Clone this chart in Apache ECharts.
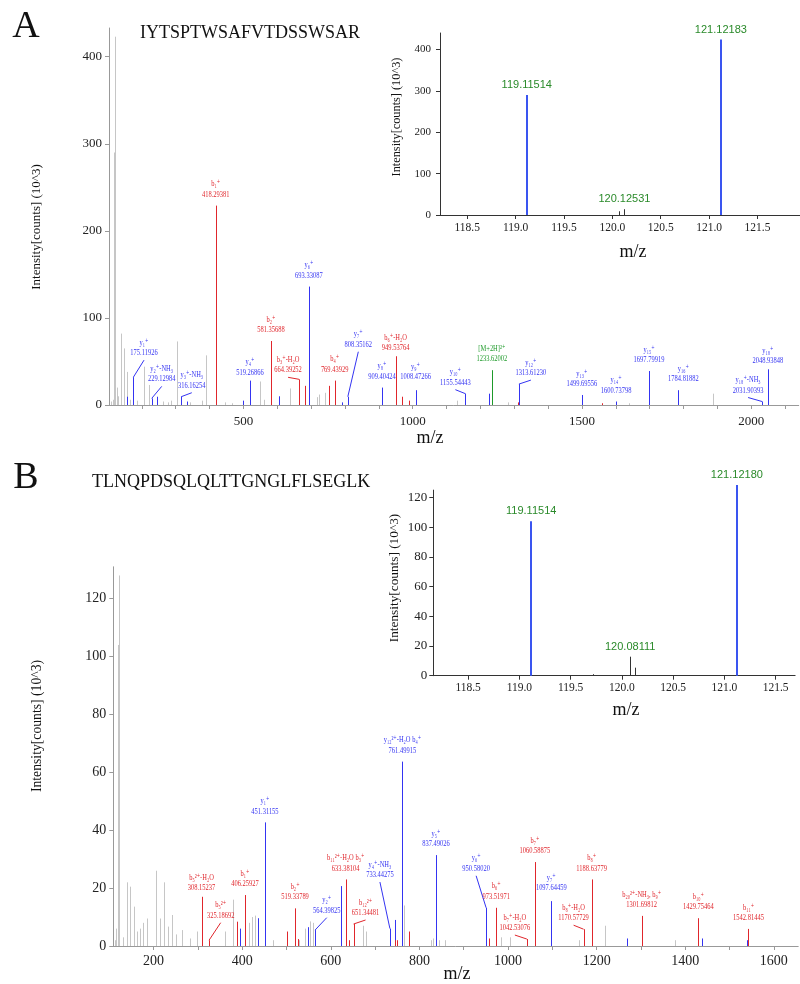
<!DOCTYPE html>
<html>
<head>
<meta charset="utf-8">
<script src="https://cdn.jsdelivr.net/npm/echarts@6.0.0/dist/echarts.min.js"></script>
<style>
  html, body { margin: 0; padding: 0; background: #fff; }
  #chart { width: 800px; height: 984px; }
</style>
</head>
<body>
<div id="chart"></div>
<script>
// ---------- panel A : IYTSPTWSAFVTDSSWSAR ----------
const seqA = 'IYTSPTWSAFVTDSSWSAR';
// [m/z, intensity (10^3)]
const aGray = [[119.1, 290], [121.1, 423], [110, 4], [114, 6], [126, 20], [130, 10], [138, 82], [146, 65],
  [148, 63], [155, 38], [164, 6], [186, 5], [205, 44], [221, 23], [263, 4], [278, 3], [286, 5], [303, 73],
  [342, 3], [377, 5], [390, 57], [446, 3], [466, 2], [549, 27], [560, 6], [638, 19], [717, 9], [724, 12],
  [741, 14], [1130, 5], [1280, 3], [1640, 2], [1886, 13]];
const aBlue = [[157, 9.5], [246.16, 9.5], [333.19, 4], [500, 5], [606.3, 10], [790, 3], [1226.6, 13]];
const aRed = [[682.4, 22], [751.4, 22], [968, 9.5], [990, 5], [1310, 3], [1558, 2]];
// [m/z, intensity, ion, m/z text, colour]
const aIons = [
  [175.119, 32, 'y₁⁺', '175.11926', 'blue'],
  [229.13, 7.6, 'y₂⁺-NH₃', '229.12984', 'blue'],
  [316.16, 9.5, 'y₃⁺-NH₃', '316.16254', 'blue'],
  [418.294, 229, 'b₁⁺', '418.29381', 'red'],
  [519.269, 28, 'y₄⁺', '519.26866', 'blue'],
  [581.357, 73.5, 'b₂⁺', '581.35688', 'red'],
  [664.39, 29.5, 'b₃⁺-H₂O', '664.39252', 'red'],
  [693.331, 136, 'y₆⁺', '693.33087', 'blue'],
  [769.44, 28, 'b₄⁺', '769.43929', 'red'],
  [808.35, 9.5, 'y₇⁺', '808.35162', 'blue'],
  [909.40, 20, 'y₈⁺', '909.40424', 'blue'],
  [949.54, 56, 'b₆⁺-H₂O', '949.53764', 'red'],
  [1008.47, 17, 'y₉⁺', '1008.47266', 'blue'],
  [1155.54, 13, 'y₁₀⁺', '1155.54443', 'blue'],
  [1233.62, 40, '[M+2H]²⁺', '1233.62002', 'green'],
  [1313.61, 24, 'y₁₂⁺', '1313.61230', 'blue'],
  [1499.70, 11.5, 'y₁₃⁺', '1499.69556', 'blue'],
  [1600.74, 4, 'y₁₄⁺', '1600.73798', 'blue'],
  [1697.80, 39, 'y₁₅⁺', '1697.79919', 'blue'],
  [1784.82, 17, 'y₁₆⁺', '1784.81882', 'blue'],
  [2031.90, 4, 'y₁₈⁺-NH₃', '2031.90393', 'blue'],
  [2048.94, 41, 'y₁₈⁺', '2048.93848', 'blue']
];
const aInsetMain = [[119.11514, 290], [121.12183, 424]];
const aInsetMinor = [[120.07, 9], [120.125, 14]];
const aInsetLabels = [[119.11514, 290, '119.11514'], [120.125, 14, '120.12531'], [121.12183, 424, '121.12183']];

// ---------- panel B : TLNQPDSQLQLTTGNGLFLSEGLK ----------
const seqB = 'TLNQPDSQLQLTTGNGLFLSEGLK';
const bGray = [[119.1, 104], [121.1, 128], [112, 2], [116, 6], [130, 3], [139, 22], [146, 20.5], [155, 13.6],
  [162, 5], [170, 6], [177, 8], [186, 9.5], [205, 26], [214, 9.5], [224, 22], [233, 6.7], [242, 10.7],
  [250, 4], [263, 5.5], [282, 2.6], [298, 5], [361, 5], [380, 16], [415, 8], [421, 10], [428, 10.5],
  [470, 2], [528, 2], [542, 6], [552, 8.5], [560, 8], [673, 7], [680, 5], [766, 14], [827, 2], [831, 2.6],
  [844, 2], [858, 2], [985, 3], [1004, 3], [1160, 2], [1218, 7], [1378, 2]];
const bBlue = [[396, 6], [436, 9.6], [549, 6.5], [622, 20.7], [744, 9], [1268.6, 2.6], [1437, 2.6], [1540, 2]];
const bRed = [[389, 8.4], [500, 5], [527, 2.4], [640, 2], [745, 2], [750, 2], [777, 5], [958, 2.6]];
const bIons = [
  [308.15, 17, 'b₅²⁺-H₂O', '308.15237', 'red'],
  [325.19, 2, 'b₅²⁺', '325.18692', 'red'],
  [406.26, 17.6, 'b₁⁺', '406.25927', 'red'],
  [451.31, 42.7, 'y₁⁺', '451.31155', 'blue'],
  [519.34, 13, 'b₂⁺', '519.33789', 'red'],
  [564.40, 5.5, 'y₂⁺', '564.39825', 'blue'],
  [633.38, 23, 'b₁₁²⁺-H₂O b₃⁺', '633.38104', 'red'],
  [651.35, 7.6, 'b₁₂²⁺', '651.34481', 'red'],
  [733.44, 6, 'y₄⁺-NH₃', '733.44275', 'blue'],
  [761.50, 63.7, 'y₁₂²⁺-H₂O b₄⁺', '761.49915', 'blue'],
  [837.49, 31.4, 'y₅⁺', '837.49026', 'blue'],
  [950.58, 13.2, 'y₆⁺', '950.58020', 'blue'],
  [973.52, 13.2, 'b₆⁺', '973.51971', 'red'],
  [1042.53, 2.4, 'b₇⁺-H₂O', '1042.53076', 'red'],
  [1060.59, 29, 'b₇⁺', '1060.58875', 'red'],
  [1097.64, 15.5, 'y₇⁺', '1097.64459', 'blue'],
  [1170.58, 5.8, 'b₈⁺-H₂O', '1170.57729', 'red'],
  [1188.64, 23, 'b₈⁺', '1188.63779', 'red'],
  [1301.70, 10.4, 'b₂₀²⁺-NH₃, b₉⁺', '1301.69812', 'red'],
  [1429.75, 9.6, 'b₁₀⁺', '1429.75464', 'red'],
  [1542.81, 5.9, 'b₁₁⁺', '1542.81445', 'red']
];
const bInsetMain = [[119.11514, 104], [121.1218, 128.4]];
const bInsetMinor = [[119.72, 1], [120.081, 12.8], [120.128, 5.4]];
const bInsetLabels = [[119.11514, 104, '119.11514'], [120.081, 12.8, '120.08111'], [121.1218, 128.4, '121.12180']];

// ---------- axis ticks ----------
const ticksA = [200, 300, 400, 500, 600, 700, 800, 900, 1000, 1100, 1200, 1300, 1400, 1500, 1600, 1700, 1800, 1900, 2000, 2100];
const labelsA = [500, 1000, 1500, 2000];
const yTicksA = [0, 100, 200, 300, 400];
const ticksB = [200, 300, 400, 500, 600, 700, 800, 900, 1000, 1100, 1200, 1300, 1400, 1500, 1600];
const labelsB = [200, 400, 600, 800, 1000, 1200, 1400, 1600];
const yTicksB = [0, 20, 40, 60, 80, 100, 120];
const insetX = [118.5, 119.0, 119.5, 120.0, 120.5, 121.0, 121.5];

// label shifts [dx, dy, leader line] (layout only)
const shiftA = {
  0: [10.6, -13, 1], 1: [10, -8, 1], 2: [10.6, 0, 1], 4: [0, 3], 6: [-11, 2, 1], 9: [10.5, -41, 1],
  11: [0, 3], 12: [0, -2], 13: [-10, 0, 1], 15: [12, 0, 1], 19: [5, 0], 20: [-14, 0, 1], 21: [0, 3]
};
const shiftB = {
  0: [0, 2.5], 1: [11.6, -13.5, 1], 5: [11.7, -8.4, 1], 7: [12, 0, 1], 8: [-10, -42.6, 1],
  11: [-10, -28, 1], 13: [-12, 0, 1], 15: [0, -2], 16: [-10, 0, 1]
};

const SERIF = '"Liberation Serif", "DejaVu Serif", serif';
const COLORS = { gray: '#c6c6c6', blue: '#3434f2', red: '#e0262c', green: '#1e9a2a', dark: '#333333', inset: '#3a55f0', lab: '#2a8a2a' };

function sticks(idx, data, color, width) {
  return {
    type: 'custom', xAxisIndex: idx, yAxisIndex: idx, data: data, silent: true, clip: false,
    renderItem: function (params, api) {
      const b = api.coord([api.value(0), 0]);
      const t = api.coord([api.value(0), api.value(1)]);
      const x = Math.round(b[0]) + (width % 2 ? 0.5 : 0);
      return { type: 'line', shape: { x1: x, y1: b[1], x2: x, y2: t[1] }, style: { stroke: color, lineWidth: width } };
    }
  };
}

function ions(idx, list, shifts) {
  return {
    type: 'custom', xAxisIndex: idx, yAxisIndex: idx, silent: true, clip: false,
    data: list.map((d, i) => [d[0], d[1], i]),
    renderItem: function (params, api) {
      const i = api.value(2);
      const d = list[i];
      const s = shifts[i] || [0, 0, 0];
      const b = api.coord([d[0], 0]);
      const t = api.coord([d[0], d[1]]);
      const c = COLORS[d[4]];
      const x = Math.round(b[0]) + 0.5;
      const lx = t[0] + s[0];
      const ly = t[1] - 11 + s[1];
      const kids = [
        { type: 'line', shape: { x1: x, y1: b[1], x2: x, y2: t[1] }, style: { stroke: c, lineWidth: 1 } },
        { type: 'text', x: lx, y: ly + 5, scaleX: 0.72,
          style: { text: d[2] + '\n' + d[3], fill: c, fontSize: 9, fontFamily: SERIF, align: 'center', verticalAlign: 'bottom', lineHeight: 10.5 } }
      ];
      if (s[2]) {
        kids.push({ type: 'line', shape: { x1: t[0], y1: t[1], x2: lx, y2: ly + 7 }, style: { stroke: c, lineWidth: 1 } });
      }
      return { type: 'group', children: kids };
    }
  };
}

function insetLabels(idx, list) {
  return {
    type: 'custom', xAxisIndex: idx, yAxisIndex: idx, silent: true, clip: false,
    data: list.map((d, i) => [d[0], d[1], i]),
    renderItem: function (params, api) {
      const d = list[api.value(2)];
      const t = api.coord([d[0], d[1]]);
      return { type: 'text', x: t[0], y: t[1] - 10,
        style: { text: d[2], fill: COLORS.lab, fontSize: 11, fontFamily: '"Liberation Sans", Arial, sans-serif', align: 'center', verticalAlign: 'middle' } };
    }
  };
}

function xAxis(idx, min, max, ticks, labels, size, margin, lineColor, fmt) {
  return {
    type: 'value', gridIndex: idx, min: min, max: max, splitLine: { show: false },
    axisLine: { lineStyle: { color: lineColor, width: 1 } },
    axisTick: { show: true, length: 4, customValues: ticks, lineStyle: { color: lineColor } },
    axisLabel: { customValues: labels, fontSize: size, fontFamily: SERIF, color: '#222', margin: margin, formatter: fmt }
  };
}
function yAxis(idx, max, ticks, size, margin, lineColor) {
  return {
    type: 'value', gridIndex: idx, min: 0, max: max, splitLine: { show: false },
    axisLine: { show: true, lineStyle: { color: lineColor, width: 1 } },
    axisTick: { show: true, length: 4, customValues: ticks, lineStyle: { color: lineColor } },
    axisLabel: { customValues: ticks, fontSize: size, fontFamily: SERIF, color: '#222', margin: margin, formatter: v => String(v) }
  };
}

function txt(x, y, text, size, rot, align) {
  return { type: 'text', x: x, y: y, rotation: rot || 0, z: 10,
    style: { text: text, fontSize: size, fontFamily: SERIF, fill: '#111', align: align || 'center', verticalAlign: 'middle' } };
}

const chart = echarts.init(document.getElementById('chart'), null, { renderer: 'canvas' });
const dec1 = v => v.toFixed(1);
const plain = v => String(Math.round(v));

const option = {
  animation: false,
  backgroundColor: '#fff',
  grid: [
    { left: 109, top: 28, width: 689.7, height: 377 },
    { left: 440, top: 33, width: 360, height: 182 },
    { left: 113.3, top: 566.8, width: 684.9, height: 379.2 },
    { left: 433.3, top: 490.1, width: 361.8, height: 185.6 }
  ],
  xAxis: [
    xAxis(0, 103, 2140, ticksA, labelsA, 13, 10, '#999', plain),
    xAxis(1, 118.218, 121.94, insetX, insetX, 11.5, 7, '#333', dec1),
    xAxis(2, 109, 1655, ticksB, labelsB, 14, 8, '#999', plain),
    xAxis(3, 118.16, 121.69, insetX, insetX, 11.5, 6, '#333', dec1)
  ],
  yAxis: [
    yAxis(0, 433, yTicksA, 13, 7, '#999'),
    yAxis(1, 440, yTicksA, 11, 9, '#333'),
    yAxis(2, 131, yTicksB, 14, 7, '#999'),
    yAxis(3, 125, yTicksB, 13, 6, '#333')
  ],
  graphic: [
    txt(26, 27, 'A', 38), txt(26, 478, 'B', 38),
    txt(140, 33, seqA, 18, 0, 'left'), txt(92, 482, seqB, 18, 0, 'left'),
    txt(37, 227, 'Intensity[counts] (10^3)', 13, Math.PI / 2),
    txt(37, 726, 'Intensity[counts] (10^3)', 13.7, Math.PI / 2),
    txt(397, 117, 'Intensity[counts] (10^3)', 12.3, Math.PI / 2),
    txt(395, 578, 'Intensity[counts] (10^3)', 13.3, Math.PI / 2),
    txt(430, 438, 'm/z', 18), txt(633, 252, 'm/z', 18),
    txt(457, 974, 'm/z', 18), txt(626, 710, 'm/z', 18)
  ],
  series: [
    sticks(0, aGray, COLORS.gray, 1), sticks(0, aBlue, COLORS.blue, 1), sticks(0, aRed, COLORS.red, 1),
    ions(0, aIons, shiftA),
    sticks(1, aInsetMinor, COLORS.dark, 1), sticks(1, aInsetMain, COLORS.inset, 2), insetLabels(1, aInsetLabels),
    sticks(2, bGray, COLORS.gray, 1), sticks(2, bBlue, COLORS.blue, 1), sticks(2, bRed, COLORS.red, 1),
    ions(2, bIons, shiftB),
    sticks(3, bInsetMinor, COLORS.dark, 1), sticks(3, bInsetMain, COLORS.inset, 2), insetLabels(3, bInsetLabels)
  ]
};
chart.setOption(option);
</script>
</body>
</html>
